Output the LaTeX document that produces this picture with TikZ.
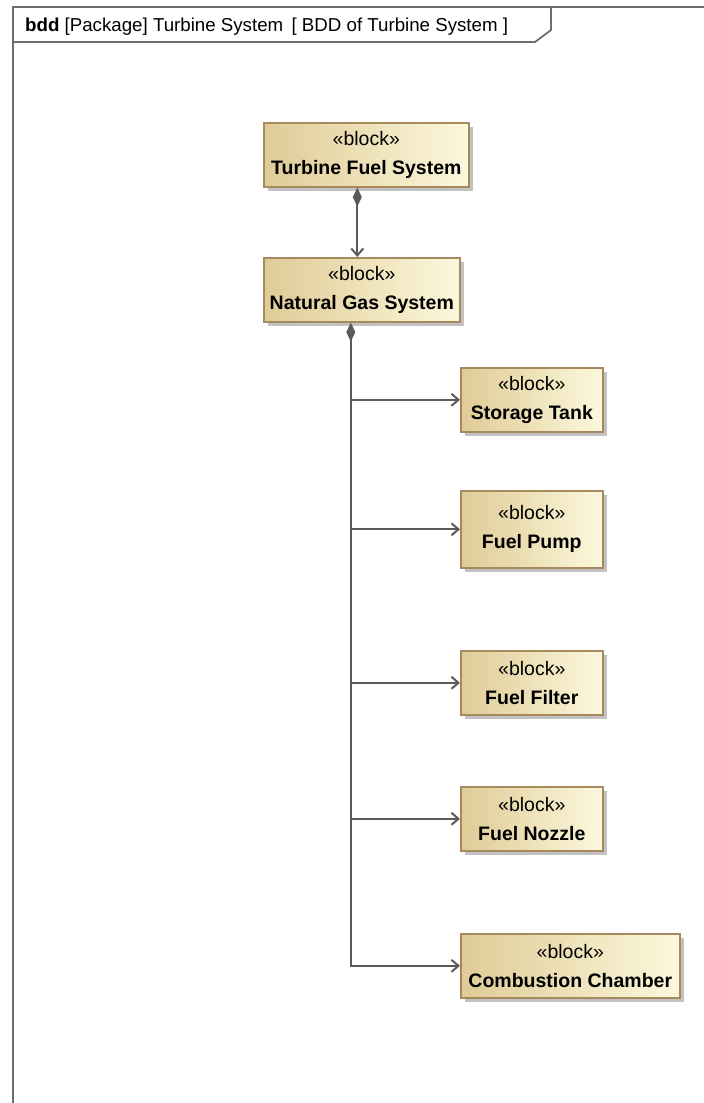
\documentclass[tikz,border=0pt]{standalone}
\usepackage{fontspec}
\setmainfont{Liberation Sans}
\usetikzlibrary{positioning, arrows.meta, shadows}

\definecolor{blockedge}{HTML}{A68A5E}
\definecolor{blockdark}{HTML}{DFCB96}
\definecolor{blocklight}{HTML}{FCF8DC}
\definecolor{wire}{HTML}{5A5A5A}
\definecolor{framegray}{HTML}{6E6E6E}

\begin{document}
\begin{tikzpicture}[x=1pt, y=-1pt,
    block/.style={draw=blockedge, line width=1.6pt, anchor=north west,
        left color=blockdark, right color=blocklight, align=center,
        minimum height=64pt, inner sep=0pt,
        font=\fontsize{19.5}{29}\selectfont,
        drop shadow={shadow xshift=4pt, shadow yshift=-4pt, fill=black!40, opacity=0.6}},
    comp/.style={draw=wire, line width=2pt,
        arrows={Diamond[length=19pt,width=9pt]-Straight Barb[length=7pt,width=12pt]}},
    part/.style={draw=wire, line width=2pt,
        arrows={-Straight Barb[length=7pt,width=12pt]}}]

    \useasboundingbox (0,0) rectangle (704,1103);

    % diagram frame
    \draw[framegray, line width=1.8pt] (13,1103) |- (704,7);
    \node[anchor=base west, font=\fontsize{18.7}{20}\selectfont, inner sep=0pt] (title) at (25,31)
        {\textbf{bdd} [Package] Turbine System \,[ BDD of Turbine System ]};
    \draw[framegray, line width=1.8pt] (13,42) -- (535,42) -- (551,30) -- (551,7);

    \node[block, minimum width=205pt] (tfs) at (263,122) {«block»\\\textbf{Turbine Fuel System}};
    \node[block, minimum width=196pt] (ngs) at (263,257) {«block»\\\textbf{Natural Gas System}};
    \node[block, minimum width=142pt] (tank) at (460,367) {«block»\\\textbf{Storage Tank}};
    \node[block, minimum width=142pt, minimum height=77pt] (pump) at (460,490) {«block»\\\textbf{Fuel Pump}};
    \node[block, minimum width=142pt] (filter) at (460,650) {«block»\\\textbf{Fuel Filter}};
    \node[block, minimum width=142pt] (nozzle) at (460,786) {«block»\\\textbf{Fuel Nozzle}};
    \node[block, minimum width=219pt] (chamber) at (460,933) {«block»\\\textbf{Combustion Chamber}};

    % composition links
    \draw[comp] ([xshift=-9pt]tfs.south) -- ([xshift=-9pt]tfs.south |- ngs.north);
    \coordinate (trunk) at ([xshift=-11pt]ngs.south);
    \draw[comp] (trunk) |- (chamber.west);
    \draw[part] (trunk |- tank.west) -- (tank.west);
    \draw[part] (trunk |- pump.west) -- (pump.west);
    \draw[part] (trunk |- filter.west) -- (filter.west);
    \draw[part] (trunk |- nozzle.west) -- (nozzle.west);

\end{tikzpicture}
\end{document}
